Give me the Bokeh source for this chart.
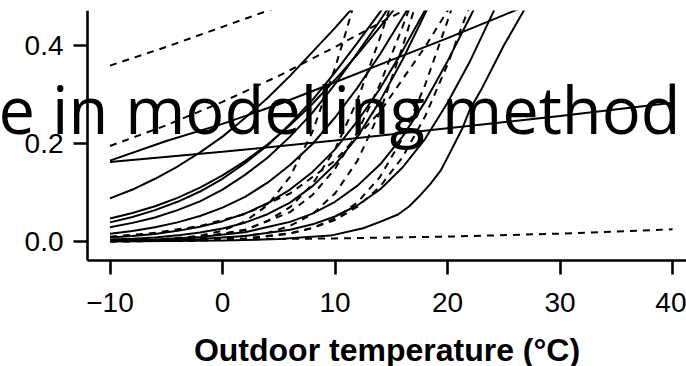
from bokeh.plotting import figure
from bokeh.models import Range1d, FixedTicker, NumeralTickFormatter, Label
from bokeh.embed import file_html
from bokeh.resources import INLINE

# ---- solid curves (temperature, value) ----
s1_t = [-10, 0, 10, 20, 30, 40]
s1_v = [0.162, 0.183, 0.206, 0.231, 0.256, 0.283]
s2_t = [-10, -5, 0, 5, 10, 15, 20, 25, 30]
s2_v = [0.165, 0.205, 0.24, 0.28, 0.325, 0.37, 0.415, 0.462, 0.51]
s3_t = [-10, -8, -6, -4, -2, 0, 2, 4, 6, 8, 10, 12, 14]
s3_v = [0.088, 0.106, 0.128, 0.153, 0.182, 0.214, 0.252, 0.293, 0.338, 0.387, 0.436, 0.488, 0.540]
s4_t = [-10, -8, -6, -4, -2, 0, 2, 4, 6, 8, 10, 12, 14, 16, 18]
s4_v = [0.047, 0.058, 0.072, 0.089, 0.110, 0.135, 0.164, 0.198, 0.237, 0.281, 0.330, 0.382, 0.438, 0.495, 0.552]
s5_t = [-10, -8, -6, -4, -2, 0, 2, 4, 6, 8, 10, 12, 14, 16]
s5_v = [0.039, 0.050, 0.064, 0.081, 0.102, 0.128, 0.160, 0.196, 0.240, 0.289, 0.345, 0.406, 0.468, 0.532]
s6_t = [-10, -8, -6, -4, -2, 0, 2, 4, 6, 8, 10, 12, 14, 16]
s6_v = [0.029, 0.038, 0.049, 0.064, 0.082, 0.106, 0.136, 0.171, 0.214, 0.263, 0.321, 0.385, 0.451, 0.520]
s7_t = [-10, -8, -6, -4, -2, 0, 2, 4, 6, 8, 10, 12, 14, 16, 18]
s7_v = [0.016, 0.0215, 0.029, 0.039, 0.052, 0.069, 0.091, 0.120, 0.156, 0.199, 0.253, 0.314, 0.382, 0.457, 0.532]
s8_t = [-10, -8, -6, -4, -2, 0, 2, 4, 6, 8, 10, 12, 14, 16, 18, 20]
s8_v = [0.008, 0.0112, 0.0155, 0.0217, 0.030, 0.0415, 0.057, 0.078, 0.106, 0.142, 0.188, 0.246, 0.312, 0.389, 0.472, 0.555]
s9_t = [-10, -8, -6, -4, -2, 0, 2, 4, 6, 8, 10, 12, 14, 16, 18, 20]
s9_v = [0.004, 0.0058, 0.0084, 0.0125, 0.0183, 0.0266, 0.0384, 0.0557, 0.0794, 0.113, 0.157, 0.214, 0.287, 0.371, 0.465, 0.560]
s10_t = [-10, -6, -2, 2, 6, 8, 10, 12, 14, 16, 18, 20, 22, 24]
s10_v = [0.002, 0.0043, 0.009, 0.019, 0.040, 0.057, 0.081, 0.114, 0.157, 0.214, 0.285, 0.368, 0.458, 0.552]
s11_t = [-10, -6, -2, 2, 6, 8, 10, 12, 14, 16, 18, 20, 22, 24, 26]
s11_v = [0.001, 0.0022, 0.0049, 0.011, 0.024, 0.035, 0.051, 0.074, 0.106, 0.151, 0.209, 0.283, 0.368, 0.465, 0.565]
s12_t = [-10, 0, 5, 9.6, 12.5, 14, 15.6, 16.6, 17.6, 18.5, 19.4, 20.3, 21.3, 22, 23, 25, 27, 28]
s12_v = [0.0002, 0.002, 0.005, 0.012, 0.027, 0.040, 0.055, 0.072, 0.095, 0.118, 0.145, 0.185, 0.23, 0.27, 0.31, 0.40, 0.48, 0.52]

# ---- dashed curves ----
d1_t = [-10, -5, 0, 5, 10]
d1_v = [0.359, 0.397, 0.438, 0.479, 0.52]
d2_t = [-10, -5, 0, 5, 10, 15, 20]
d2_v = [0.195, 0.237, 0.285, 0.338, 0.397, 0.458, 0.52]
d3_t = [-10, -6, -2, 0, 2, 4, 6, 8, 10, 11, 12]
d3_v = [0.0009, 0.0033, 0.0117, 0.022, 0.041, 0.074, 0.132, 0.224, 0.354, 0.430, 0.51]
d4_t = [-10, -6, -2, 2, 4, 6, 8, 10, 12, 14, 16]
d4_v = [0.0009, 0.0026, 0.008, 0.024, 0.042, 0.070, 0.117, 0.188, 0.289, 0.416, 0.555]
d5_t = [-10, -6, -2, 2, 6, 8, 10, 12, 14, 16, 18]
d5_v = [0.0012, 0.0032, 0.0086, 0.023, 0.060, 0.095, 0.148, 0.223, 0.321, 0.438, 0.562]
d6_t = [-10, -4, 0, 4, 6, 8, 10, 12, 14, 16, 18]
d6_v = [0.0003, 0.0016, 0.0054, 0.0176, 0.0317, 0.056, 0.098, 0.165, 0.265, 0.397, 0.545]
d7_t = [-10, -2, 2, 6, 8, 10, 12, 14, 16, 18, 20, 22]
d7_v = [0.0002, 0.0017, 0.0053, 0.016, 0.028, 0.047, 0.080, 0.132, 0.211, 0.319, 0.450, 0.589]
d8_t = [-10, -2, 2, 6, 8, 10, 12, 14, 16, 18, 20, 22, 24]
d8_v = [0.0003, 0.0023, 0.0062, 0.0168, 0.0274, 0.044, 0.071, 0.112, 0.172, 0.255, 0.361, 0.483, 0.606]
d9_t = [-10, -6, -2, 2, 6, 10, 14, 18, 22]
d9_v = [0.0098, 0.0176, 0.0317, 0.056, 0.098, 0.165, 0.265, 0.397, 0.545]
d10_t = [-10, 0, 10, 20, 30, 40]
d10_v = [0.0025, 0.004, 0.0063, 0.010, 0.016, 0.025]

x_ticks = [-10, 0, 10, 20, 30, 40]
y_ticks = [0.0, 0.2, 0.4]
x_label = "Outdoor temperature (°C)"
overlay_text = "e in modelling method"

solid = [(s1_t, s1_v), (s2_t, s2_v), (s3_t, s3_v), (s4_t, s4_v), (s5_t, s5_v),
         (s6_t, s6_v), (s7_t, s7_v), (s8_t, s8_v), (s9_t, s9_v), (s10_t, s10_v),
         (s11_t, s11_v), (s12_t, s12_v)]
dashed = [(d1_t, d1_v), (d2_t, d2_v), (d3_t, d3_v), (d4_t, d4_v), (d5_t, d5_v),
          (d6_t, d6_v), (d7_t, d7_v), (d8_t, d8_v), (d9_t, d9_v), (d10_t, d10_v)]

X_LO, X_HI = -12.0, 41.24      # plotting region along x
Y_LO, Y_HI = -0.0388, 0.4714   # plotting region along y

# frame covers the whole page below a 10px top margin; axes sit at fixed locations
p = figure(width=686, height=366, output_backend="svg", toolbar_location=None,
           x_range=Range1d(-19.733, 41.24), y_range=Range1d(-0.2551, Y_HI),
           min_border_left=0, min_border_right=0, min_border_top=10,
           min_border_bottom=0)
p.outline_line_color = None
p.grid.visible = False
p.background_fill_color = "white"
p.border_fill_color = "white"

for t, v in solid:
    p.line(t, v, line_color="black", line_width=2.0)
for t, v in dashed:
    p.line(t, v, line_color="black", line_width=2.0, line_dash="7 6")

FONT = "Liberation Sans"
for ax in (p.xaxis[0], p.yaxis[0]):
    ax.axis_line_width = 2.6
    ax.axis_line_color = "black"
    ax.major_tick_line_width = 2.6
    ax.major_tick_line_color = "black"
    ax.major_tick_out = 14
    ax.major_tick_in = 0
    ax.minor_tick_line_color = None
    ax.major_label_text_font = FONT
    ax.major_label_text_font_size = "28px"
    ax.major_label_text_color = "black"

p.xaxis.fixed_location = Y_LO
p.xaxis.bounds = (X_LO, X_HI)
p.xaxis.ticker = FixedTicker(ticks=x_ticks)
p.xaxis.major_label_overrides = {-10: "\u221210"}
p.xaxis.major_label_standoff = 18
p.xaxis.axis_label = x_label
p.xaxis.axis_label_text_font = FONT
p.xaxis.axis_label_text_font_style = "bold"
p.xaxis.axis_label_text_font_size = "32px"
p.xaxis.axis_label_standoff = 17
p.xaxis.axis_label_text_color = "black"

p.yaxis.fixed_location = X_LO
p.yaxis.bounds = (Y_LO, Y_HI)
p.yaxis.ticker = FixedTicker(ticks=y_ticks)
p.yaxis.formatter = NumeralTickFormatter(format="0.0")
p.yaxis.major_label_standoff = 10

lab = Label(x=-19.9, y=0.2714, text=overlay_text, text_font="Open Sans",
            text_font_size="65px", text_color="black", text_baseline="alphabetic",
            text_align="left")
p.add_layout(lab)

open("out.html", "w").write(file_html(p, INLINE))
